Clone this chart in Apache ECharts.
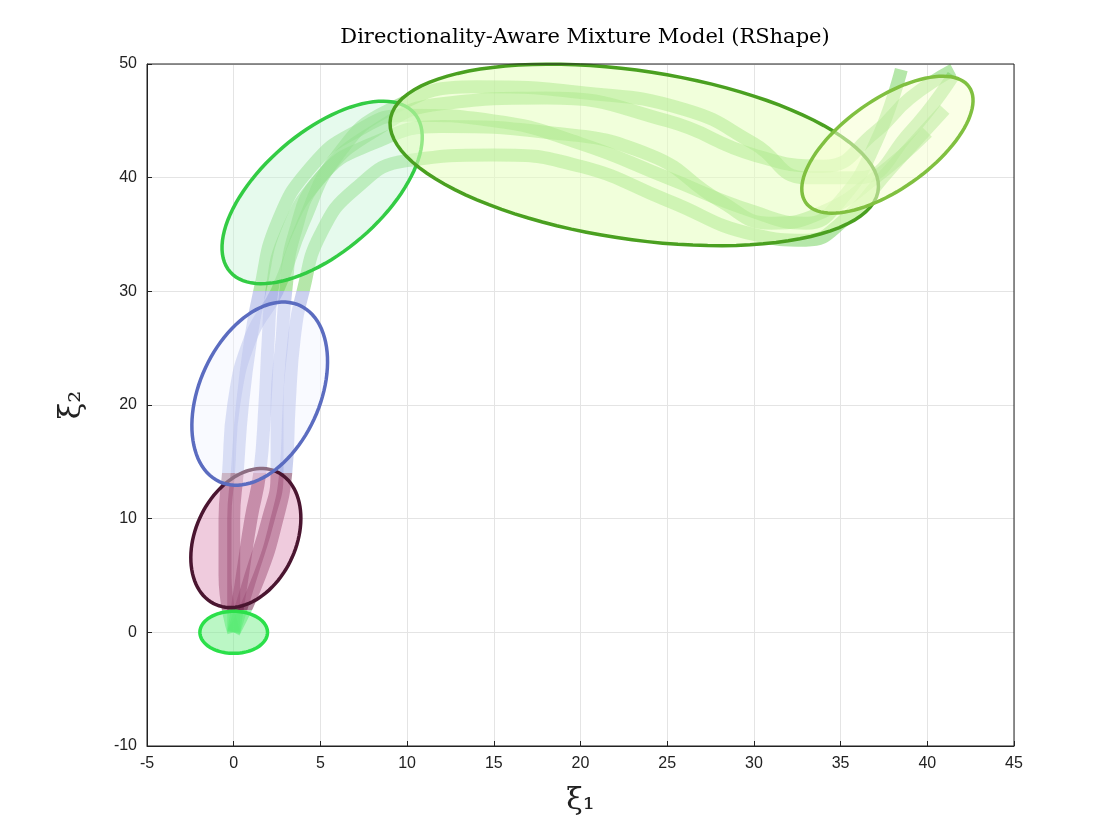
<!DOCTYPE html>
<html><head><meta charset="utf-8">
<script src="https://cdn.jsdelivr.net/npm/echarts@6/dist/echarts.min.js"></script>
<style>html,body{margin:0;background:#fff}#c{width:1120px;height:840px}</style>
</head><body><div id="c"></div>
<script>
// demo trajectories (x, y)
var traj1 = [[0,0],[0.5,5],[1,10],[1.5,14],[1.8,20],[2,26],[2.2,30],[3,35],[5,40],[8,44],[12,46.5],[18,47],[25,45],[30,42],[34,41],[37,44],[39,47],[41.5,49.5]];
var traj2 = [[0,0],[0,5],[0,10],[0.2,14],[0.5,20],[1,26],[1.5,30],[2.5,36],[4.5,41],[7,44],[10,45.5],[15,45],[20,43],[25,40],[30,37],[33,36],[35,38],[37,43],[38.5,49.5]];
var traj3 = [[0,0],[1.5,5],[2.5,10],[3,14],[3.2,20],[3.5,26],[4,30],[5,35],[7,39],[10,41.5],[15,42],[20,41],[25,38],[30,35],[33,34.5],[35,36],[38,41],[41,46]];
var traj4 = [[0,0],[-0.5,5],[-0.5,10],[-0.3,14],[0,20],[1,26],[2.5,30],[4,36],[6,42],[9,46],[14,48],[20,47.5],[26,46],[30,43],[33,40],[36,40],[39,44],[41.5,49]];
var traj5 = [[0,0],[1,5],[2,10],[2.5,14],[2.5,20],[2.8,26],[3,30],[3.5,35],[5,40],[8,43],[12,44.5],[18,44],[24,42],[28,38],[31,36],[34,37],[37,40],[40,44]];
var trajs = [traj1, traj2, traj3, traj4, traj5];

// Gaussian components: center x, center y, semi-major, semi-minor, angle (deg)
var compCx = [0, 0.7, 1.5, 5.1, 23.1, 37.7];
var compCy = [0, 8.3, 21.0, 38.7, 42.0, 42.9];
var compA = [1.95, 6.2, 8.2, 9.0, 14.45, 7.1];
var compB = [1.85, 3.0, 3.6, 4.1, 7.3, 3.2];
var compAng = [0, 79, 78, 59.5, -15, 53.6];
var compLabels = ['1','2','3','4','5','6'];
var labelX = [0.6, 1.3, 2.2, 5.8, 23.6, 38.5];
var labelY = [-0.3, 8, 20.5, 38.3, 41.5, 43];
var edgeColors = ['#2be04a','#4a1530','#5b6cc0','#33cc44','#4aa020','#80c040'];
var fillColors = ['rgba(120,240,140,0.5)','rgba(220,140,180,0.45)','rgba(240,242,255,0.4)','rgba(200,245,215,0.45)','rgba(230,255,190,0.55)','rgba(245,255,210,0.55)'];

var chart = echarts.init(document.getElementById('c'));

var series = [];
trajs.forEach(function (t) {
  series.push({
    type: 'line', data: t, smooth: true, symbol: 'none',
    lineStyle: { width: 13, opacity: 0.5 }, z: 2
  });
});
series.push({
  type: 'custom', z: 3,
  data: compCx.map(function (v, i) { return [i]; }),
  renderItem: function (params, api) {
    var i = api.value(0);
    var th = compAng[i] * Math.PI / 180;
    var pts = [];
    for (var k = 0; k <= 100; k++) {
      var t = k / 100 * 2 * Math.PI;
      var ex = compA[i] * Math.cos(t), ey = compB[i] * Math.sin(t);
      pts.push(api.coord([compCx[i] + ex * Math.cos(th) - ey * Math.sin(th),
                          compCy[i] + ex * Math.sin(th) + ey * Math.cos(th)]));
    }
    return { type: 'polygon', shape: { points: pts },
      style: { fill: fillColors[i], stroke: edgeColors[i], lineWidth: 3.5 } };
  }
});
series.push({
  type: 'scatter', z: 5, symbolSize: 1, itemStyle: { opacity: 0 },
  data: labelX.map(function (x, i) { return [x, labelY[i], compLabels[i]]; }),
  label: { show: true, position: 'inside', formatter: function (p) { return p.value[2]; },
    fontSize: 34, color: '#000', textBorderWidth: 0, fontFamily: 'Liberation Sans' }
});

chart.setOption({
  animation: false,
  title: { text: 'Directionality-Aware Mixture Model (RShape)', left: 580, top: 22, textAlign: 'center',
    textStyle: { fontFamily: 'DejaVu Serif', fontWeight: 'normal', fontSize: 21, color: '#000' } },
  grid: { left: 147, right: 106, top: 64, bottom: 94 },
  visualMap: { show: false, type: 'piecewise', dimension: 1, seriesIndex: [0,1,2,3,4],
    pieces: [
      { lt: 2, color: '#3ee860' },
      { gte: 2, lt: 14, color: '#6a1e45' },
      { gte: 14, lt: 30, color: '#98a4e0' },
      { gte: 30, color: '#6cd055' }
    ] },
  xAxis: { type: 'value', min: -5, max: 45, interval: 5,
    name: 'ξ₁', nameLocation: 'middle', nameGap: 40,
    nameTextStyle: { fontFamily: 'DejaVu Serif', fontSize: 30, color: '#222' },
    axisLine: { show: true, onZero: false, lineStyle: { color: '#222' } },
    axisTick: { inside: true, lineStyle: { color: '#222' } },
    axisLabel: { fontSize: 16, color: '#222', margin: 10 },
    splitLine: { lineStyle: { color: '#e4e4e4' } } },
  yAxis: { type: 'value', min: -10, max: 50, interval: 10,
    name: 'ξ₂', nameLocation: 'middle', nameGap: 60, nameRotate: 90,
    nameTextStyle: { fontFamily: 'DejaVu Serif', fontSize: 30, color: '#222' },
    axisLine: { show: true, onZero: false, lineStyle: { color: '#222' } },
    axisTick: { inside: true, lineStyle: { color: '#222' } },
    axisLabel: { fontSize: 16, color: '#222', margin: 10 },
    splitLine: { lineStyle: { color: '#e4e4e4' } } },
  series: series
});
// box border on top/right
chart.setOption({ graphic: [{ type: 'rect', shape: { x: 147, y: 64, width: 867, height: 682 },
  style: { fill: 'none', stroke: '#222', lineWidth: 1 }, silent: true, z: 10 }] });
</script></body></html>
